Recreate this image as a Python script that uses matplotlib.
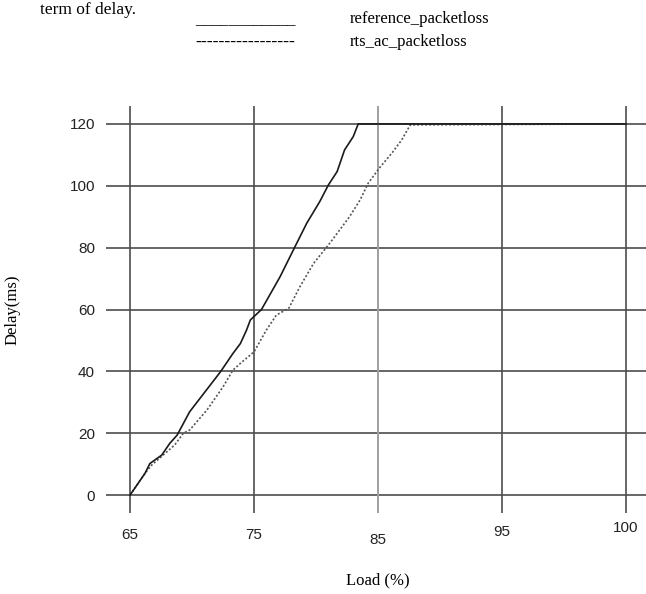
import matplotlib
matplotlib.use("Agg")
import matplotlib.pyplot as plt
import numpy as np
from matplotlib.transforms import ScaledTranslation

# tick positions are evenly spaced even though the loads are not
load_ticks = [65, 75, 85, 95, 100]
tick_labels = ["65", "75", "85", "95", "100"]
delay_ticks = [0, 20, 40, 60, 80, 100, 120]

ref_load = [65, 66.2, 66.6, 67.55, 68.2, 68.8, 69.8, 72.3, 73.3, 73.9, 74.4, 74.7,
            75.6, 77.1, 78.3, 79.25, 80.3, 81.0, 81.7, 82.3, 83.0, 83.4, 100]
ref_delay = [0, 7, 10.2, 12.9, 16.7, 19.4, 26.9, 39.9, 45.8, 49, 53.4, 56.6,
             60, 70.6, 80.3, 87.9, 94.9, 100.3, 104.6, 111.6, 115.9, 120, 120]

rts_load = [65, 66.2, 66.75, 68.6, 69.3, 69.8, 71.2, 72.5, 73.3, 73.9, 75.0, 76.0,
            76.8, 77.8, 78.7, 79.8, 81.1, 81.7, 82.7, 83.55, 84.2, 85.1, 86.2,
            86.9, 87.6, 100]
rts_delay = [0, 7, 9.7, 16.2, 20, 21, 27.5, 35, 40.4, 42.6, 46.3, 53.4,
             58.2, 60.4, 67.4, 74.9, 81.4, 84.6, 90, 95.4, 100.8, 105.7, 111,
             114.8, 119.7, 120]

serif = "Liberation Serif"
tick_font = "Liberation Sans"

pos = np.arange(len(load_ticks), dtype=float)
lt = np.array(load_ticks, dtype=float)


def fwd(x):
    # piecewise linear, extended past both ends
    x = np.asarray(x, dtype=float)
    p = np.interp(x, lt, pos)
    p = np.where(x < lt[0], (x - lt[0]) / (lt[1] - lt[0]), p)
    p = np.where(x > lt[-1], pos[-1] + (x - lt[-1]) / (lt[-1] - lt[-2]), p)
    return p


def inv(p):
    p = np.asarray(p, dtype=float)
    x = np.interp(p, pos, lt)
    x = np.where(p < 0, lt[0] + p * (lt[1] - lt[0]), x)
    x = np.where(p > pos[-1], lt[-1] + (p - pos[-1]) * (lt[-1] - lt[-2]), x)
    return x


fig = plt.figure(figsize=(6.46, 5.94), dpi=100)
ax = fig.add_axes([106 / 646, 1 - 513 / 594, 540 / 646, 407 / 594])
ax.set_xscale("function", functions=(fwd, inv))

ax.plot(rts_load, rts_delay, color="#555555", lw=1.2, linestyle=(0, (1.2, 1.2)))
ax.plot(ref_load, ref_delay, color="#1a1a1a", lw=1.2)

ax.set_xlim(float(inv(-0.194)), float(inv(4.161)))
ax.set_ylim(-5.8, 125.8)

ax.set_xticks(load_ticks)
ax.set_xticklabels(tick_labels)
ax.set_yticks(delay_ticks)
ax.tick_params(length=0, labelsize=11)
ax.tick_params(axis="x", pad=11)
ax.tick_params(axis="y", pad=8)
for lab in ax.get_xticklabels() + ax.get_yticklabels():
    lab.set_fontfamily(tick_font)
    lab.set_color("#222222")

for s in ax.spines.values():
    s.set_visible(False)

for y in delay_ticks:
    ax.axhline(y, color="#4d4d4d", lw=1.2, zorder=0)
for x in load_ticks:
    c = "#a0a0a0" if x == 85 else "#4d4d4d"
    ax.axvline(x, color=c, lw=1.4 if x == 85 else 1.2, zorder=0)

# stagger the x tick labels a little
offsets = [0, 0, -5, 3, 7]
for tick, dy in zip(ax.xaxis.get_major_ticks(), offsets):
    lab = tick.label1
    lab.set_transform(lab.get_transform() + ScaledTranslation(0, dy / 100, fig.dpi_scale_trans))

ax.set_xlabel("Load (%)", family=serif, fontsize=12, va="center")
ax.xaxis.set_label_coords(0.504, -0.165)
ax.set_ylabel("Delay(ms)", family=serif, fontsize=12, va="center")
ax.yaxis.set_label_coords(-0.174, 0.5)

fig.text(40 / 646, 1 - 10 / 594, "term of delay.", family=serif, fontsize=12.5, va="center")
fig.text(195 / 646, 1 - 20 / 594, "____________", family=serif, fontsize=12, va="center")
fig.text(195 / 646, 1 - 42 / 594, "-----------------", family=serif, fontsize=13, va="center")
fig.text(350 / 646, 1 - 19 / 594, "reference_packetloss", family=serif, fontsize=12, va="center")
fig.text(350 / 646, 1 - 42 / 594, "rts_ac_packetloss", family=serif, fontsize=12, va="center")

fig.savefig("out.png", dpi=100)
